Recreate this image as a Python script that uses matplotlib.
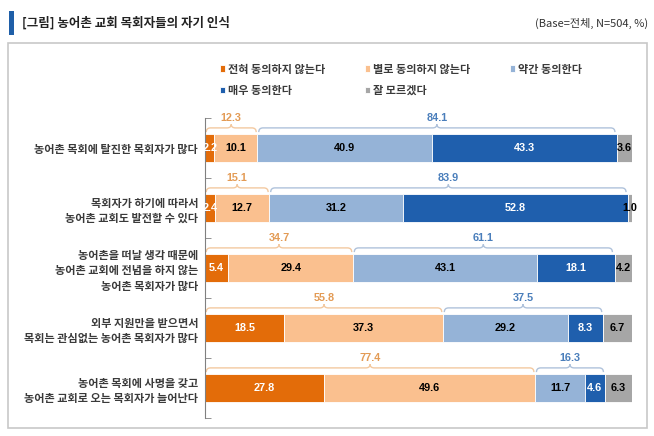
import numpy as np
import matplotlib
matplotlib.use('Agg')
import matplotlib.pyplot as plt
from matplotlib.patches import Rectangle, PathPatch
from matplotlib.path import Path

plt.rcParams['font.family'] = ['Noto Sans CJK KR', 'DejaVu Sans']

# === 데이터 ===
categories = [
    '농어촌 목회에 탈진한 목회자가 많다',
    '목회자가 하기에 따라서\n농어촌 교회도 발전할 수 있다',
    '농어촌을 떠날 생각 때문에\n농어촌 교회에 전념을 하지 않는\n농어촌 목회자가 많다',
    '외부 지원만을 받으면서\n목회는 관심없는 농어촌 목회자가 많다',
    '농어촌 목회에 사명을 갖고\n농어촌 교회로 오는 목회자가 늘어난다',
]
series_names = ['전혀 동의하지 않는다', '별로 동의하지 않는다', '약간 동의한다', '매우 동의한다', '잘 모르겠다']
strongly_disagree = [2.2, 2.4, 5.4, 18.5, 27.8]
disagree = [10.1, 12.7, 29.4, 37.3, 49.6]
agree = [40.9, 31.2, 43.1, 29.2, 11.7]
strongly_agree = [43.3, 52.8, 18.1, 8.3, 4.6]
dont_know = [3.6, 1.0, 4.2, 6.7, 6.3]
disagree_total = [12.3, 15.1, 34.7, 55.8, 77.4]
agree_total = [84.1, 83.9, 61.1, 37.5, 16.3]

colors = ['#E36C09', '#FAC08F', '#95B3D7', '#1F5FAD', '#A6A6A6']
text_colors = ['white', 'black', 'black', 'white', 'black']
num_font = ['Liberation Sans', 'DejaVu Sans']

fig = plt.figure(figsize=(6.54, 4.36), dpi=100)
W, H = 654, 436

# 제목 영역
fig.patches.append(Rectangle((9 / W, 1 - 35 / H), 5 / W, 24 / H, transform=fig.transFigure,
                             facecolor='#1F5FA8', edgecolor='none'))
fig.text(22 / W, 1 - 23 / H, '[그림] 농어촌 교회 목회자들의 자기 인식', fontsize=9,
         fontweight='bold', color='#222222', va='center', ha='left')
fig.text(648 / W, 1 - 23 / H, '(Base=전체, N=504, %)', fontsize=8,
         color='#333333', va='center', ha='right')
# 테두리 박스
fig.patches.append(Rectangle((8 / W, 1 - 428 / H), 639 / W, 385 / H, transform=fig.transFigure,
                             facecolor='none', edgecolor='#C8C8C8', linewidth=1.2))

ax = fig.add_axes([205 / W, 1 - 418 / H, 427 / W, 300 / H])
series = [strongly_disagree, disagree, agree, strongly_agree, dont_know]
y = np.arange(len(categories))
left = np.zeros(len(categories))
bar_h = 0.47
handles = []
for vals, col, tc, name in zip(series, colors, text_colors, series_names):
    vals = np.array(vals)
    b = ax.barh(y, vals, left=left, height=bar_h, color=col, edgecolor='white',
                linewidth=0.6, label=name)
    handles.append(b)
    for yi, l, v in zip(y, left, vals):
        ax.text(l + v / 2, yi, f'{v:.1f}', ha='center', va='center', fontsize=7.8,
                fontweight='bold', color=tc, family=num_font)
    left = left + vals


def brace(x0, x1, yc, color):
    yb = yc - bar_h / 2 - 0.03
    yl = yb - 0.07
    yt = yl - 0.06
    r = 1.0
    xm = (x0 + x1) / 2
    verts = [(x0, yb), (x0, yl), (x0 + r, yl),
             (xm - r, yl), (xm, yl), (xm, yt),
             (xm, yl), (xm + r, yl),
             (x1 - r, yl), (x1, yl), (x1, yb)]
    codes = [Path.MOVETO, Path.CURVE3, Path.CURVE3,
             Path.LINETO, Path.CURVE3, Path.CURVE3,
             Path.CURVE3, Path.CURVE3,
             Path.LINETO, Path.CURVE3, Path.CURVE3]
    ax.add_patch(PathPatch(Path(verts, codes), facecolor='none', edgecolor=color, linewidth=1.0))
    return yt


for yi, d, a in zip(y, disagree_total, agree_total):
    yt = brace(0.3, d - 0.3, yi, '#F3C9A0')
    ax.text(d / 2, yt - 0.02, f'{d:.1f}', ha='center', va='bottom', fontsize=7.8,
            fontweight='bold', color='#E39B55', family=num_font)
    yt = brace(d + 0.3, d + a - 0.3, yi, '#AFC2DB')
    ax.text(d + a / 2, yt - 0.02, f'{a:.1f}', ha='center', va='bottom', fontsize=7.8,
            fontweight='bold', color='#4A7EBB', family=num_font)

ax.set_xlim(0, 100.1)
ax.set_ylim(len(categories) - 0.5, -0.5)
ax.set_yticks(y)
ax.set_yticklabels(categories, fontsize=8, fontweight='bold', color='#3A3A3A', linespacing=1.25)
ax.tick_params(axis='y', which='major', length=0, pad=5)
ax.set_yticks(np.arange(-0.5, len(categories), 1), minor=True)
ax.tick_params(axis='y', which='minor', direction='in', length=4, color='#808080')
ax.set_xticks([])
for s in ['top', 'right', 'bottom']:
    ax.spines[s].set_visible(False)
ax.spines['left'].set_color('#808080')
ax.spines['left'].set_linewidth(0.8)

order = [0, 3, 1, 4, 2]
leg = fig.legend([handles[i] for i in order], [series_names[i] for i in order], ncol=3,
                 loc='upper left', bbox_to_anchor=(214 / W, 1 - 57 / H), frameon=False,
                 handlelength=0.5, handleheight=0.5, handletextpad=0.3,
                 columnspacing=3.5, labelspacing=0.75, borderpad=0, labelcolor='#3A3A3A',
                 prop={'size': 8, 'weight': 'bold'})

fig.savefig('out.png', dpi=100)
